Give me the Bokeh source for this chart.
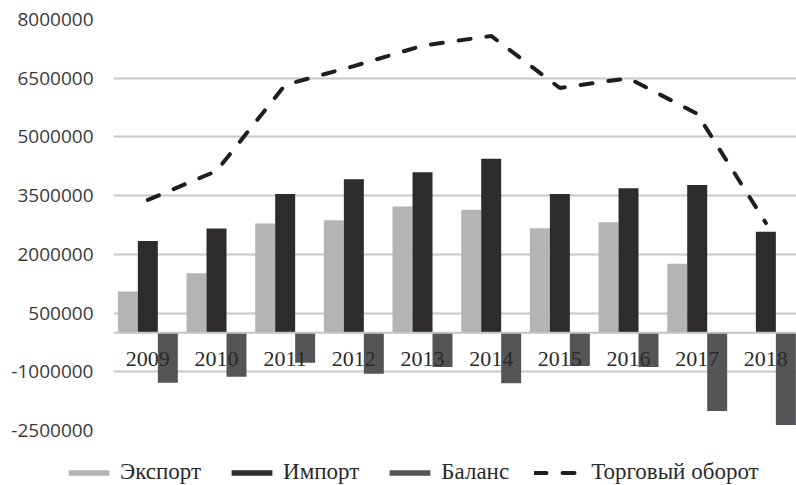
from bokeh.plotting import figure
from bokeh.layouts import column
from bokeh.models import (ColumnDataSource, FixedTicker, NumeralTickFormatter, Span,
                          Legend, LegendItem, Range1d)
from bokeh.transform import dodge
from bokeh.core.properties import value
from bokeh.embed import file_html
from bokeh.resources import INLINE

years = ["2009", "2010", "2011", "2012", "2013", "2014", "2015", "2016", "2017", "2018"]
export = [1050000, 1520000, 2790000, 2870000, 3220000, 3140000, 2670000, 2820000, 1760000, 0]
imports = [2340000, 2660000, 3540000, 3920000, 4100000, 4440000, 3540000, 3690000, 3770000, 2580000]
balance = [-1280000, -1130000, -770000, -1050000, -880000, -1290000, -850000, -880000, -2000000, -2360000]
turnover = [3390000, 4130000, 6330000, 6810000, 7330000, 7580000, 6250000, 6500000, 5590000, 2800000]
y_ticks = [-2500000, -1000000, 500000, 2000000, 3500000, 5000000, 6500000, 8000000]
series_names = ["Экспорт", "Импорт", "Баланс", "Торговый оборот"]

n = len(years)
src = ColumnDataSource(dict(
    x=list(range(n)), year=years, export=export, imports=imports,
    balance=balance, turnover=turnover, zero=[0] * n,
))

C_EXP, C_IMP, C_BAL, C_LINE = "#b4b4b4", "#2d2b2c", "#545556", "#1e1e1e"
bw = 0.291


def draw_series(fig):
    r_exp = fig.vbar(x=dodge("x", -bw), top="export", bottom=0, width=bw, source=src,
                     fill_color=C_EXP, line_color=None)
    r_imp = fig.vbar(x="x", top="imports", bottom=0, width=bw, source=src,
                     fill_color=C_IMP, line_color=None)
    r_bal = fig.vbar(x=dodge("x", bw), top=0, bottom="balance", width=bw, source=src,
                     fill_color=C_BAL, line_color=None)
    return r_exp, r_imp, r_bal


p = figure(frame_width=683, frame_height=411, output_backend="svg", toolbar_location=None,
           x_range=Range1d(-0.5, 9.446), y_range=Range1d(y_ticks[0], y_ticks[-1]),
           x_axis_location=None,
           min_border_left=113, min_border_right=0, min_border_top=19, min_border_bottom=12)
p.outline_line_color = None
p.background_fill_color = "white"
p.border_fill_color = "white"

draw_series(p)
p.add_layout(Span(location=0, dimension="width", line_color="#c4c4c4", line_width=2))
p.line(x="x", y="turnover", source=src, line_color=C_LINE, line_width=4,
       line_dash="12 16", line_cap="round")
p.text(x="x", y="zero", text="year", source=src, text_align="center", text_baseline="middle",
       y_offset=26, text_font=value("Liberation Serif"), text_font_size="22px", text_color="#2a2a2a")

p.xgrid.grid_line_color = None
p.yaxis.ticker = FixedTicker(ticks=y_ticks)
p.ygrid.ticker = FixedTicker(ticks=y_ticks)
p.ygrid.grid_line_color = "#c8c8c8"
p.ygrid.grid_line_width = 2
p.yaxis.formatter = NumeralTickFormatter(format="0")
p.yaxis.axis_line_color = None
p.yaxis.major_tick_line_color = None
p.yaxis.minor_tick_line_color = None
p.yaxis.major_tick_out = 0
p.yaxis.major_tick_in = 0
p.yaxis.major_label_standoff = 20
p.yaxis.major_label_text_font = "Open Sans"
p.yaxis.major_label_text_font_size = "19px"
p.yaxis.major_label_text_color = "#3a3a3a"

# legend strip below the chart (same series, view window placed away from the data)
lg = figure(frame_width=796, frame_height=43, output_backend="svg", toolbar_location=None,
            x_range=Range1d(0, 796), y_range=Range1d(1e9, 1e9 + 43),
            x_axis_location=None, y_axis_location=None,
            min_border_left=0, min_border_right=0, min_border_top=0, min_border_bottom=0)
lg.outline_line_color = None
lg.grid.visible = False
l_exp, l_imp, l_bal = draw_series(lg)
l_line = lg.line(x="x", y="turnover", source=src, line_color=C_LINE, line_width=4,
                 line_dash="12 16", line_cap="round")

legend = Legend(items=[
    LegendItem(label=series_names[0], renderers=[l_exp]),
    LegendItem(label=series_names[1], renderers=[l_imp]),
    LegendItem(label=series_names[2], renderers=[l_bal]),
    LegendItem(label=series_names[3], renderers=[l_line]),
], orientation="horizontal", location=(63, 0))
legend.border_line_color = None
legend.background_fill_alpha = 0
legend.glyph_width = 51
legend.glyph_height = 7
legend.label_standoff = 6
legend.spacing = 25
legend.padding = 0
legend.margin = 0
legend.label_height = 26
legend.label_text_font = "Liberation Serif"
legend.label_text_font_size = "23px"
legend.label_text_color = "#2a2a2a"
lg.add_layout(legend)

layout = column(p, lg, spacing=0)
open("out.html", "w").write(file_html(layout, INLINE))
